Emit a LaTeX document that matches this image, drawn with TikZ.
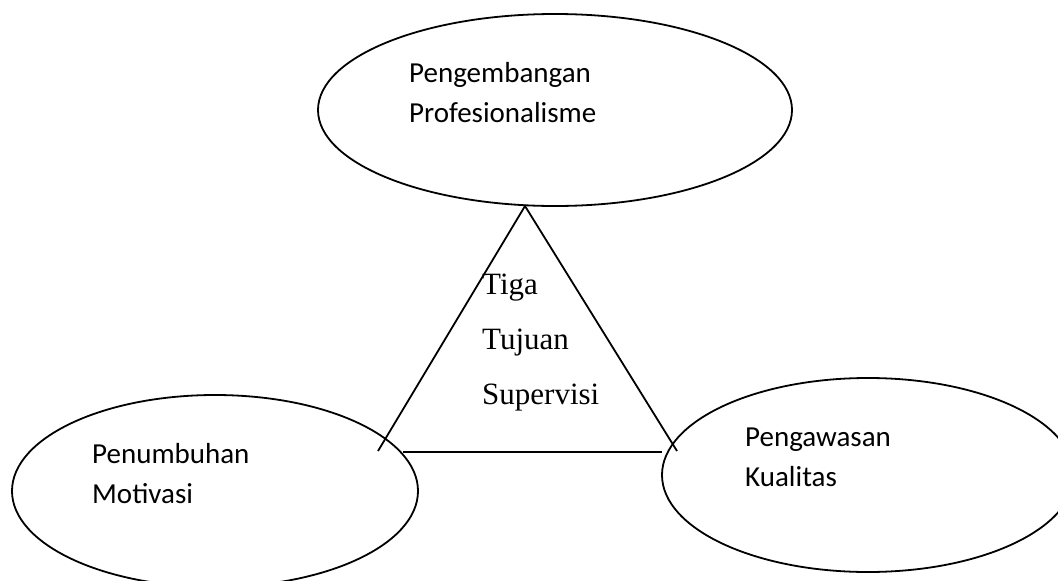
\documentclass[tikz,border=0pt]{standalone}
\usepackage{fontspec}
\setmainfont{Carlito}
\newfontfamily\timesfont{Liberation Serif}
\usetikzlibrary{shapes.geometric,positioning}
\definecolor{inkline}{HTML}{000000}

\begin{document}
\begin{tikzpicture}[x=1pt,y=-1pt,
  goal/.style={ellipse,draw=inkline,line width=1.8pt,inner sep=0pt},
  goaltext/.style={anchor=base west,align=left,inner sep=0pt,font=\fontsize{29}{40}\selectfont},
  side/.style={line width=1.8pt,draw=inkline}
]
\useasboundingbox (0,0) rectangle (1058,581);
% the three aims
\node[goal,minimum width=474pt,minimum height=192pt] (prof) at (555,110) {};
\node[goal,minimum width=406pt,minimum height=192pt] (motiv) at (215,491) {};
\node[goal,minimum width=412pt,minimum height=194pt] (qual) at (868,475) {};
\node[goaltext] (profText) at (409,122) {Pengembangan\\Profesionalisme};
\node[goaltext] (motivText) at (92,503) {Penumbuhan\\Motivasi};
\node[goaltext] (qualText) at (745,486) {Pengawasan\\Kualitas};
% triangle in the middle
\coordinate (apex) at (525,206);
\coordinate (leftFoot) at (378,451);
\coordinate (rightFoot) at (677,451);
\coordinate (baseLeft) at (403,452);
\coordinate (baseRight) at (662,452);
\draw[side] (leftFoot) -- (apex) -- (rightFoot);
\draw[side] (baseLeft) -- (baseRight);
\node[anchor=base west,align=left,inner sep=0pt,font=\timesfont\fontsize{31}{55}\selectfont] (aim) at (482,404)
  {Tiga\\Tujuan\\Supervisi};
\end{tikzpicture}
\end{document}
